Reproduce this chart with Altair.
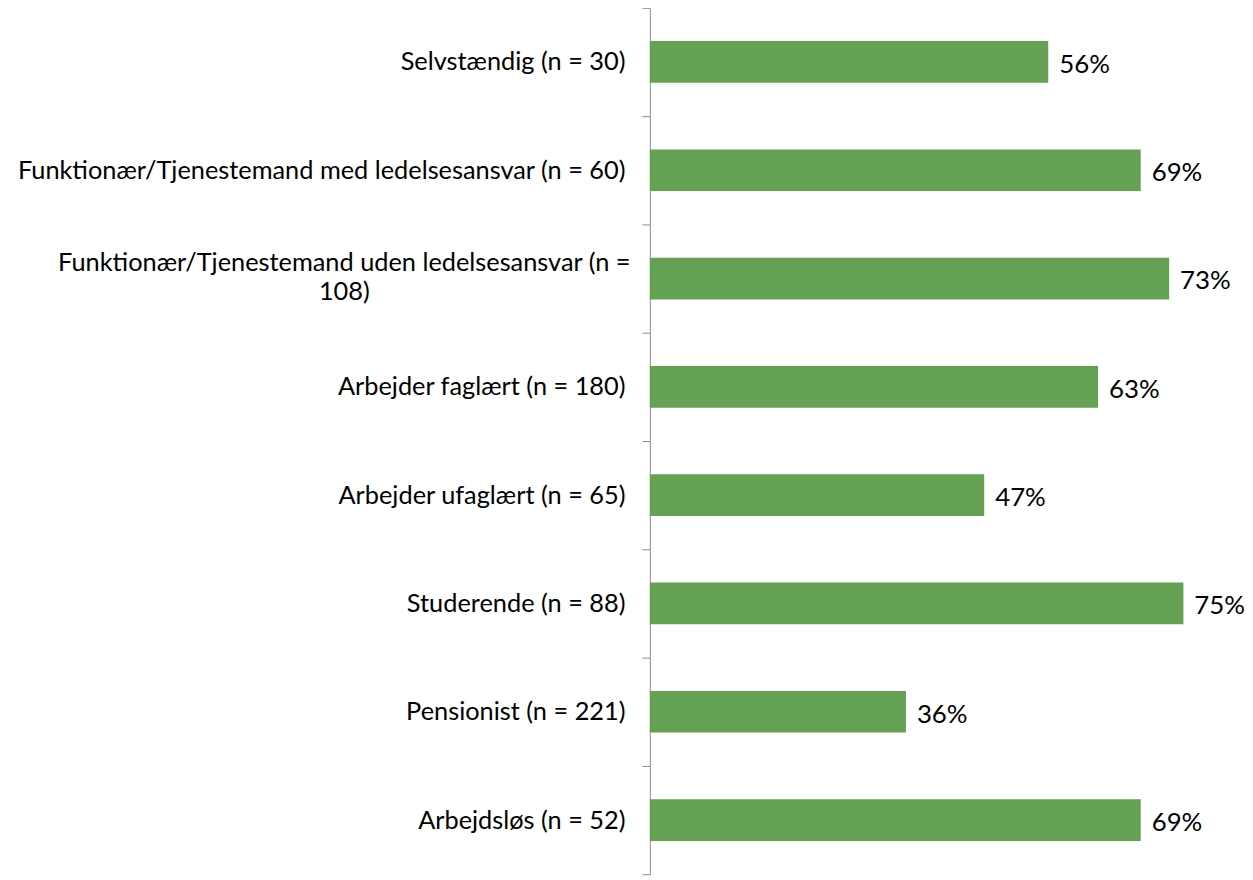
import altair as alt
import pandas as pd

categories = [
    "Selvstændig (n = 30)",
    "Funktionær/Tjenestemand med ledelsesansvar (n = 60)",
    "Funktionær/Tjenestemand uden ledelsesansvar (n = 108)",
    "Arbejder faglært (n = 180)",
    "Arbejder ufaglært (n = 65)",
    "Studerende (n = 88)",
    "Pensionist (n = 221)",
    "Arbejdsløs (n = 52)",
]
values = [0.56, 0.69, 0.73, 0.63, 0.47, 0.75, 0.36, 0.69]

df = pd.DataFrame({"cat": categories, "val": values})

wrapped = categories[2]
label_expr = (
    f"datum.value == '{wrapped}' ? ['Funktionær/Tjenestemand uden ledelsesansvar (n =', '108)'] : datum.value"
)
is_wrapped = f"datum.value == '{wrapped}'"

FONT = "Lato"

y_scale = alt.Scale(paddingInner=0, paddingOuter=0, range=[-3, 869])

y_enc = alt.Y(
    "cat:N",
    sort=None,
    title=None,
    scale=y_scale,
    axis=alt.Axis(
        tickBand="extent",
        domainColor="#8c8c8c",
        tickColor="#8c8c8c",
        tickSize=8,
        labelFont=FONT,
        labelFontSize=25.5,
        labelColor="#000000",
        labelLimit=0,
        labelPadding=alt.condition(is_wrapped, alt.value(300), alt.value(17)),
        labelAlign=alt.condition(is_wrapped, alt.value("center"), alt.value("right")),
        labelOffset=alt.condition(is_wrapped, alt.value(-16), alt.value(0)),
        labelExpr=label_expr,
        labelLineHeight=29,
    ),
)

x_enc = alt.X(
    "val:Q",
    scale=alt.Scale(domain=[0, 0.8226], nice=False),
    axis=None,
)

bars = alt.Chart(df).mark_bar(color="#64A152", height={"band": 0.385}).encode(y=y_enc, x=x_enc)
texts = alt.Chart(df).mark_text(
    align="left", baseline="middle", dx=11, dy=3, font=FONT, fontSize=26, color="#000000"
).encode(
    y=alt.Y("cat:N", sort=None, scale=y_scale),
    x=x_enc,
    text=alt.Text("val:Q", format=".0%"),
)

chart = (
    alt.layer(bars, texts)
    .properties(
        width=589,
        height=872,
        padding={"left": 646, "top": 0, "right": 10, "bottom": 0},
        autosize=alt.AutoSizeParams(type="none"),
        background="white",
    )
    .configure_view(strokeWidth=0, stroke="transparent")
)

chart.save("out.html", embed_options={"renderer": "svg", "actions": False})
